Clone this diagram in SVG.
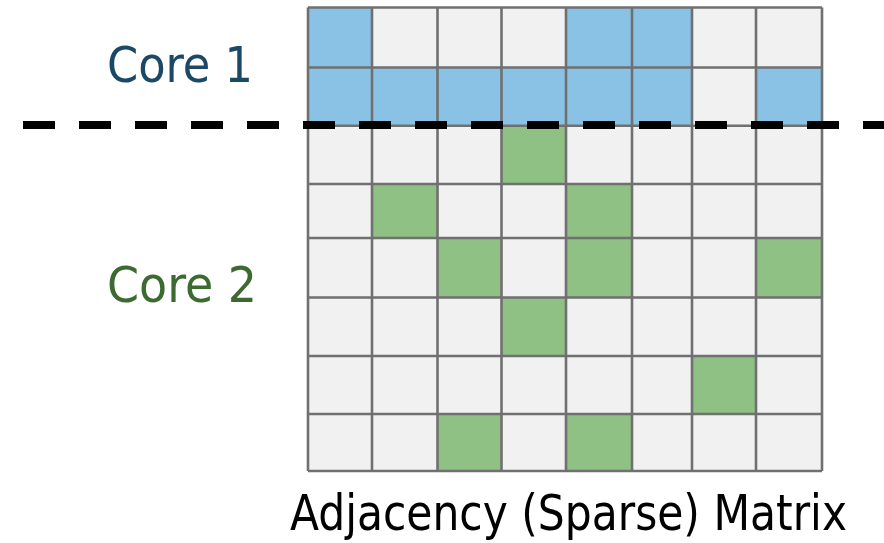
<svg xmlns="http://www.w3.org/2000/svg" width="884" height="543" viewBox="0 0 884 543">
<style>
.e{fill:#f1f1f1}
.b{fill:#8ac2e5}
.g{fill:#8ec183}
.grid{stroke:#707070;stroke-width:2.6;fill:none}
.lbl{font-family:"DejaVu Sans Condensed","DejaVu Sans",sans-serif;font-size:50px}
</style>
<rect width="884" height="543" fill="#ffffff"/>
<g id="matrix">
<rect class="e" x="308" y="7.5" width="514" height="463.5"/>
<g id="core1-cells">
<rect class="b" x="308" y="7.5" width="64" height="60"/>
<rect class="b" x="566" y="7.5" width="66" height="60"/>
<rect class="b" x="632" y="7.5" width="60" height="60"/>
<rect class="b" x="308" y="67.5" width="384" height="58.2"/>
<rect class="b" x="756" y="67.5" width="66" height="58.2"/>
</g>
<g id="core2-cells">
<rect class="g" x="501.5" y="125.7" width="64.5" height="58.3"/>
<rect class="g" x="372" y="184" width="65.5" height="54"/>
<rect class="g" x="566" y="184" width="66" height="54"/>
<rect class="g" x="437.5" y="238" width="64" height="59.5"/>
<rect class="g" x="566" y="238" width="66" height="59.5"/>
<rect class="g" x="756" y="238" width="66" height="59.5"/>
<rect class="g" x="501.5" y="297.5" width="64.5" height="58.5"/>
<rect class="g" x="692" y="356" width="64" height="58"/>
<rect class="g" x="437.5" y="414" width="64" height="57"/>
<rect class="g" x="566" y="414" width="66" height="57"/>
</g>
<path class="grid" d="M308 7.5V471M372 7.5V471M437.5 7.5V471M501.5 7.5V471M566 7.5V471M632 7.5V471M692 7.5V471M756 7.5V471M822 7.5V471M308 7.5H822M308 67.5H822M308 125.7H822M308 184H822M308 238H822M308 297.5H822M308 356H822M308 414H822M308 471H822"/>
</g>
<g id="connectors">
<line x1="23" y1="125" x2="884" y2="125" stroke="#000000" stroke-width="8" stroke-dasharray="32 24"/>
</g>
<g id="label-core1">
<text class="lbl" x="107" y="82" fill="#1b4965" textLength="146" lengthAdjust="spacingAndGlyphs">Core 1</text>
</g>
<g id="label-core2">
<text class="lbl" x="107" y="302" fill="#3d6a31" textLength="150" lengthAdjust="spacingAndGlyphs">Core 2</text>
</g>
<g id="label-matrix">
<text class="lbl" x="290" y="530" fill="#000000" font-size="44" textLength="557" lengthAdjust="spacingAndGlyphs">Adjacency (Sparse) Matrix</text>
</g>
</svg>
